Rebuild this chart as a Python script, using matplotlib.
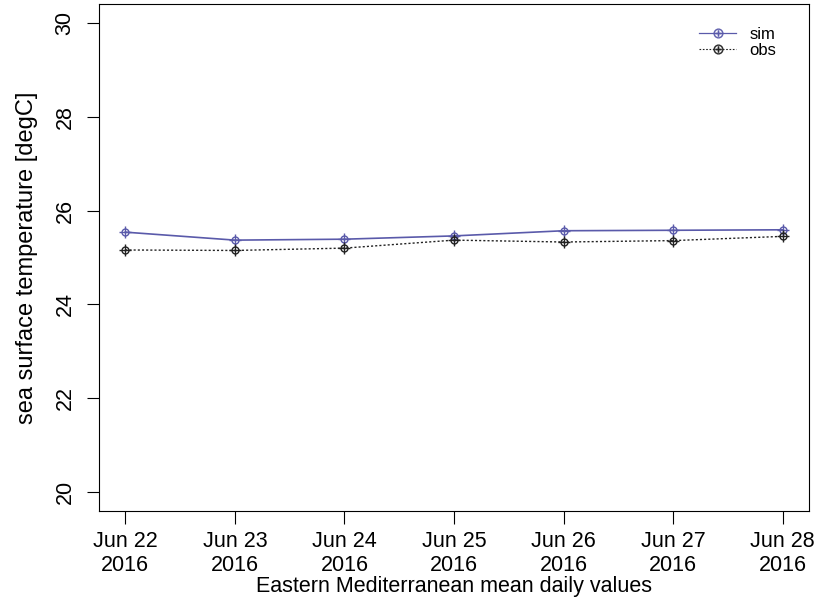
import numpy as np
import pandas as pd
import matplotlib
matplotlib.use("Agg")
import matplotlib.pyplot as plt

plt.rcParams["font.family"] = ["Liberation Sans", "DejaVu Sans"]

# data
dates = pd.date_range("2016-06-22", "2016-06-28", freq="D")
sim = [25.54, 25.37, 25.39, 25.46, 25.57, 25.58, 25.59]
obs = [25.16, 25.15, 25.20, 25.37, 25.33, 25.36, 25.45]
tick_labels = [d.strftime("%b %d\n%Y") for d in dates]
y_ticks = [20, 22, 24, 26, 28, 30]

x = np.arange(len(dates))

fig = plt.figure(figsize=(8.17, 6.01), dpi=100)
ax = fig.add_axes([99 / 817, 1 - 511 / 601, 710 / 817, 507 / 601])

sim_col = "#5a5aaa"
obs_col = "#222222"
ax.plot(x, sim, color=sim_col, lw=1.2, marker="o", ms=5, mfc="none", mec=sim_col, mew=1)
ax.plot(x, sim, ls="none", marker="+", ms=8, mec=sim_col, mew=1)
ax.plot(x, obs, color=obs_col, lw=1, ls=(0, (1.5, 1.5)), marker="o", ms=5, mfc="none", mec=obs_col, mew=1)
ax.plot(x, obs, ls="none", marker="+", ms=8, mec=obs_col, mew=1)

# legend entries in the same style
ax.plot([], [], color=sim_col, lw=0.9, marker="$\\oplus$", ms=7, mew=0.2, label="sim")
ax.plot([], [], color=obs_col, lw=0.8, ls=(0, (1.5, 1.5)), marker="$\\oplus$", ms=7, mew=0.2, label="obs")
handles, labels = ax.get_legend_handles_labels()
ax.legend(handles[-2:], labels[-2:], loc="upper right", frameon=False, fontsize=12,
          handlelength=2.2, handletextpad=0.8, labelspacing=0.1,
          bbox_to_anchor=(0.975, 0.985))

ax.set_xlim(-0.24, 6.24)
ax.set_ylim(19.6, 30.4)
ax.set_xticks(x)
ax.set_xticklabels(tick_labels, fontsize=15.5, linespacing=1.16)
ax.set_yticks(y_ticks)
ax.set_yticklabels([str(v) for v in y_ticks], rotation=90, va="center", fontsize=15.5)
ax.tick_params(length=9, width=0.8)
ax.tick_params(axis="x", pad=5.5)
ax.tick_params(axis="y", pad=8)
ax.set_ylabel("sea surface temperature [degC]", fontsize=17, labelpad=12)
ax.set_xlabel("Eastern Mediterranean mean daily values", fontsize=15.5, labelpad=0)
for s in ax.spines.values():
    s.set_linewidth(0.8)

fig.savefig("out.png", dpi=100)
